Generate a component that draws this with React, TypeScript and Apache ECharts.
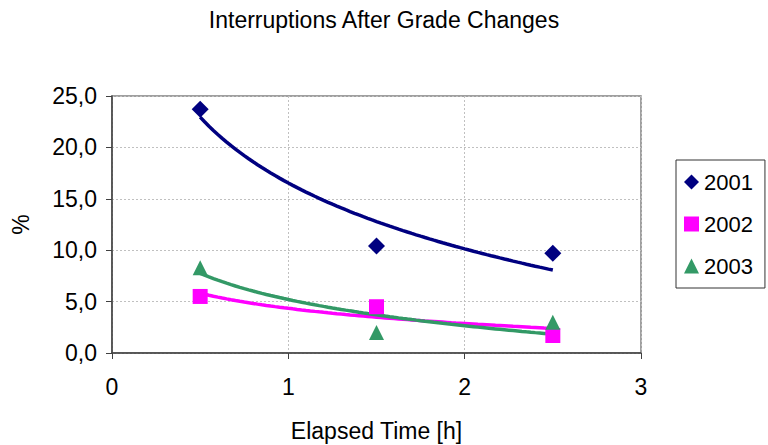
import React, { useEffect, useRef } from "react";
import * as echarts from "echarts";

const elapsedHours = [0.5, 1.5, 2.5];
const seriesNames = ["2001", "2002", "2003"];
const values2001 = [23.7, 10.4, 9.7];
const values2002 = [5.5, 4.5, 1.7];
const values2003 = [8.3, 2.0, 3.0];
const colors = ["#000080", "#FF00FF", "#339966"];
const symbols = ["diamond", "rect", "triangle"];
const yTicks = [0, 5, 10, 15, 20, 25];

// logarithmic trend line (least squares on ln x), as Excel's "Logarithmic" trendline
function logTrend(xs: number[], ys: number[]) {
  const lx = xs.map(Math.log);
  const n = xs.length;
  const mx = lx.reduce((a, b) => a + b, 0) / n;
  const my = ys.reduce((a, b) => a + b, 0) / n;
  let sxy = 0, sxx = 0;
  for (let i = 0; i < n; i++) {
    sxy += (lx[i] - mx) * (ys[i] - my);
    sxx += (lx[i] - mx) * (lx[i] - mx);
  }
  const b = sxy / sxx;
  const a = my - b * mx;
  const pts: number[][] = [];
  const x0 = Math.min(...xs), x1 = Math.max(...xs);
  const steps = 80;
  for (let i = 0; i <= steps; i++) {
    const x = x0 + ((x1 - x0) * i) / steps;
    pts.push([x, a + b * Math.log(x)]);
  }
  return pts;
}

export default function App() {
  const ref = useRef<HTMLDivElement>(null);
  useEffect(() => {
    if (!ref.current) return;
    const chart = echarts.init(ref.current, undefined, { renderer: "svg" });
    const all = [values2001, values2002, values2003];
    const font = "'Liberation Sans', Arial, sans-serif";
    const series: any[] = [];
    all.forEach((vals, i) => {
      series.push({
        name: seriesNames[i] + " trend",
        type: "line",
        data: logTrend(elapsedHours, vals),
        showSymbol: false,
        symbol: "none",
        lineStyle: { color: colors[i], width: 3.5 },
        silent: true,
        z: 2,
      });
    });
    all.forEach((vals, i) => {
      series.push({
        name: seriesNames[i],
        type: "scatter",
        data: elapsedHours.map((x, j) => [x, vals[j]]),
        symbol: symbols[i],
        symbolSize: i === 0 ? 17 : 15,
        itemStyle: { color: colors[i], opacity: 1 },
        z: 3,
      });
    });
    chart.setOption({
      animation: false,
      backgroundColor: "#ffffff",
      textStyle: { fontFamily: font },
      title: {
        text: "Interruptions After Grade Changes",
        left: "center",
        top: 3,
        textStyle: { fontSize: 23, fontWeight: "normal", color: "#000", fontFamily: font },
      },
      grid: {
        left: 112,
        right: 127,
        top: 96,
        bottom: 92,
        show: true,
        borderColor: "#808080",
        borderWidth: 1.5,
        outerBoundsMode: "none",
        containLabel: false,
      },
      legend: {
        orient: "vertical",
        left: 676,
        top: 160,
        data: seriesNames.map((n, i) => ({ name: n, itemStyle: { color: colors[i], opacity: 1 } })),
        borderColor: "#333",
        borderWidth: 1,
        padding: [11, 12, 11, 8],
        itemGap: 20,
        itemWidth: 15,
        itemHeight: 15,
        textStyle: { fontSize: 22, color: "#000", fontFamily: font },
      },
      xAxis: {
        type: "value",
        min: 0,
        max: 3,
        interval: 1,
        name: "Elapsed Time [h]",
        nameLocation: "middle",
        nameGap: 66,
        nameTextStyle: { fontSize: 23, color: "#000", fontFamily: font },
        axisLine: { lineStyle: { color: "#404040", width: 1.5 } },
        axisTick: { show: true, length: 6, lineStyle: { color: "#404040" } },
        axisLabel: { fontSize: 23, color: "#000", margin: 22, fontFamily: font },
        splitLine: { show: true, lineStyle: { color: "#c0c0c0", type: [2, 2], width: 1 } },
      },
      yAxis: {
        type: "value",
        min: yTicks[0],
        max: yTicks[yTicks.length - 1],
        interval: 5,
        name: "%",
        nameLocation: "middle",
        nameRotate: 90,
        nameGap: 80,
        nameTextStyle: { fontSize: 23, color: "#000", fontFamily: font },
        axisLine: { show: true, lineStyle: { color: "#404040", width: 1.5 } },
        axisTick: { show: true, length: 6, lineStyle: { color: "#404040" } },
        axisLabel: {
          fontSize: 23,
          color: "#000",
          margin: 15,
          fontFamily: font,
          formatter: (v: number) => v.toFixed(1).replace(".", ","),
        },
        splitLine: { show: true, lineStyle: { color: "#c0c0c0", type: [2, 2], width: 1 } },
      },
      series,
    });
    return () => chart.dispose();
  }, []);
  return <div ref={ref} style={{ width: 768, height: 445, position: "absolute", left: 0, top: 0 }} />;
}
